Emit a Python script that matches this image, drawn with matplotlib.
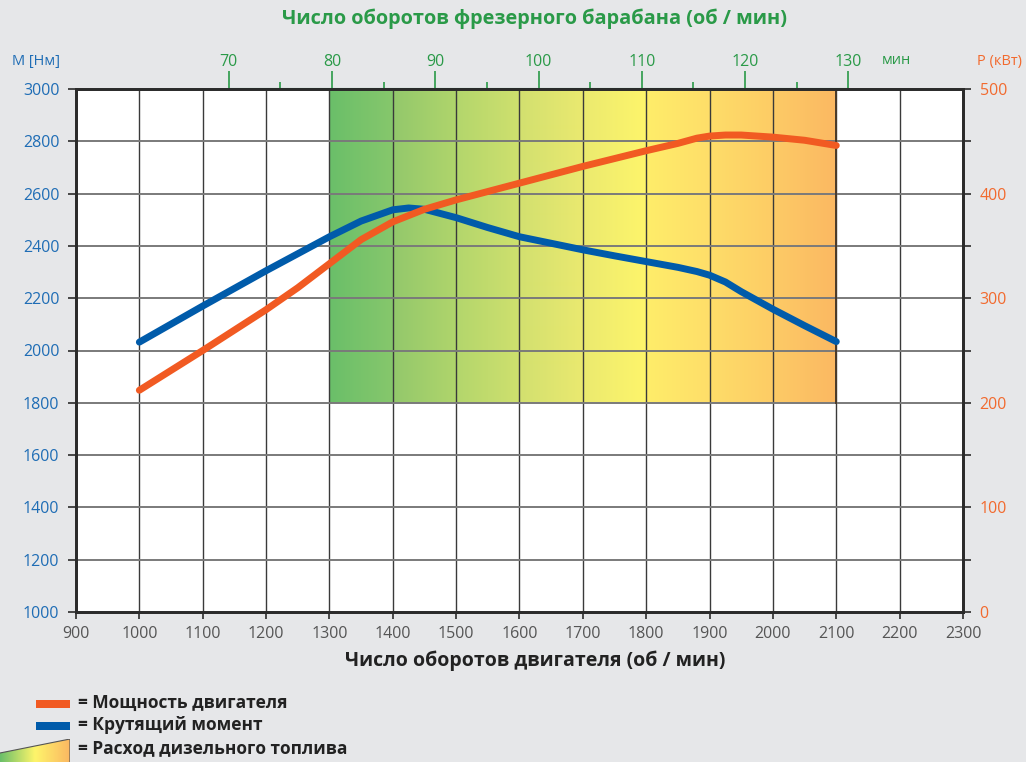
import numpy as np
import matplotlib
matplotlib.use("Agg")
import matplotlib.pyplot as plt
from matplotlib.colors import LinearSegmentedColormap, to_rgb
from matplotlib.patches import Polygon, Rectangle

plt.rcParams['font.family'] = ['Open Sans', 'DejaVu Sans']

# ---------------- data ----------------
torque_rpm = [1000, 1100, 1200, 1250, 1300, 1350, 1400, 1425, 1450, 1500, 1550, 1600, 1650,
              1700, 1750, 1800, 1850, 1880, 1900, 1925, 1950, 2000, 2050, 2100]
torque = [2032, 2170, 2305, 2370, 2435, 2495, 2538, 2545, 2540, 2508, 2470, 2435, 2410,
          2385, 2362, 2340, 2318, 2302, 2288, 2262, 2225, 2158, 2095, 2034]
power_rpm = [1000, 1100, 1200, 1250, 1300, 1350, 1400, 1450, 1500, 1550, 1600, 1700, 1800,
             1850, 1880, 1900, 1925, 1950, 2000, 2050, 2100]
power = [212, 250, 289, 310, 333, 356, 373, 385, 394, 402, 410, 426, 441,
         448, 453, 455, 456, 456, 454, 451, 446]

x_ticks = list(range(900, 2301, 100))
torque_ticks = list(range(1000, 3001, 200))
power_ticks = [0, 100, 200, 300, 400, 500]
power_minor = [50, 150, 250, 350, 450]
drum_ticks = [70, 80, 90, 100, 110, 120, 130]
drum_minor = [75, 85, 95, 105, 115, 125]
drum_ratio = 16.3  # engine rpm per drum rpm

zone_rpm = (1300, 2100)
zone_torque = (1800, 3000)
zone_col_edges = list(range(1300, 2101, 100))
zone_colors = [("#6abf69", "#86c76c"), ("#93c86b", "#b0d56c"), ("#b3d66c", "#cfe06e"),
               ("#d2e06f", "#eae96f"), ("#ebea6f", "#fef56b"), ("#ffed6a", "#fede69"),
               ("#fedd69", "#fdcc65"), ("#fdcb66", "#fbb862")]

legend_labels = ["= Мощность двигателя", "= Крутящий момент", "= Расход дизельного топлива"]

# ---------------- styles ----------------
BG = "#e6e7e9"
ORANGE = "#f15a22"
BLUE = "#005baa"
BLUE_T = "#1f6db5"
ORANGE_T = "#f26a2e"
GREEN = "#2a9a48"
DARK = "#2b2b2b"

W, H = 1026, 762
fig = plt.figure(figsize=(W / 100, H / 100), dpi=100, facecolor=BG)
ax = fig.add_axes([76 / W, 1 - 612 / H, (963 - 76) / W, (612 - 89) / H])
ax.set_facecolor("white")

# gradient zone, per column
for i in range(len(zone_col_edges) - 1):
    c0, c1 = np.array(to_rgb(zone_colors[i][0])), np.array(to_rgb(zone_colors[i][1]))
    t = np.linspace(0, 1, 64)[None, :, None]
    img = c0[None, None, :] * (1 - t) + c1[None, None, :] * t
    ax.imshow(img, extent=[zone_col_edges[i], zone_col_edges[i + 1], zone_torque[0], zone_torque[1]],
              aspect="auto", interpolation="bilinear", zorder=0.2)
ax.set_xlim(900, 2300)
ax.set_ylim(1000, 3000)

# grid
for xv in x_ticks[1:-1]:
    ax.axvline(xv, color="#3a3a3a", lw=1.0, zorder=1.5)
for yv in torque_ticks[1:-1]:
    ax.axhline(yv, color="#7a7a7a", lw=1.4, zorder=1.5)
ax.plot([zone_rpm[1], zone_rpm[1]], [zone_torque[0], zone_torque[1]], color="#4a3a2a", lw=1.4, zorder=1.6)

# lines
ax.plot(torque_rpm, torque, color=BLUE, lw=5, solid_capstyle="round", solid_joinstyle="round", zorder=3)
axp = ax.twinx()
axp.set_ylim(0, 500)
axp.plot(power_rpm, power, color=ORANGE, lw=5, solid_capstyle="round", solid_joinstyle="round", zorder=4)

for a in (ax, axp):
    for s in a.spines.values():
        s.set_color(DARK)
        s.set_linewidth(2)

ax.set_xticks(x_ticks)
ax.set_yticks(torque_ticks)
ax.tick_params(axis="x", length=5, width=1.2, color=DARK, labelcolor="#555555", labelsize=11.5, pad=5)
ax.tick_params(axis="y", length=6, width=1.2, color=DARK, labelcolor=BLUE_T, labelsize=11.5, pad=6)
axp.set_yticks(power_ticks)
axp.set_yticks(power_minor, minor=True)
axp.tick_params(axis="y", which="both", length=6, width=1.2, color=DARK, labelcolor=ORANGE_T,
                labelsize=11.5, pad=6)

# top drum axis
top = ax.secondary_xaxis("top", functions=(lambda x: x / drum_ratio, lambda d: d * drum_ratio))
top.set_xticks(drum_ticks)
top.set_xticks(drum_minor, minor=True)
top.tick_params(axis="x", which="major", length=13, width=1.2, color=GREEN, labelcolor=GREEN,
                labelsize=11.5, pad=1)
top.tick_params(axis="x", which="minor", length=5, width=1.2, color=GREEN)
top.spines["top"].set_bounds(drum_ticks[0], drum_ticks[-1])
top.spines["top"].set_color(GREEN)
top.spines["top"].set_linewidth(1.5)

# texts
fig.text(535 / W, 1 - 19 / H, "Число оборотов фрезерного барабана (об / мин)", color=GREEN,
         fontsize=14.3, fontweight="bold", ha="center", va="center")
fig.text(535 / W, 1 - 661 / H, "Число оборотов двигателя (об / мин)", color="#222222",
         fontsize=14, fontweight="bold", ha="center", va="center")
fig.text(12 / W, 1 - 61 / H, "M [Нм]", color=BLUE_T, fontsize=10.5, ha="left", va="center")
fig.text(1022 / W, 1 - 61 / H, "P (кВт)", color=ORANGE_T, fontsize=10.5, ha="right", va="center")
fig.text(882 / W, 1 - 60 / H, "мин", color=GREEN, fontsize=10.5, ha="left", va="center")

# legend
fig.patches.append(Rectangle((36 / W, 1 - 708 / H), 34 / W, 8 / H, transform=fig.transFigure,
                             facecolor=ORANGE, edgecolor="none"))
fig.patches.append(Rectangle((36 / W, 1 - 730 / H), 34 / W, 8 / H, transform=fig.transFigure,
                             facecolor=BLUE, edgecolor="none"))
lax = fig.add_axes([0, 0, 70 / W, 23 / H])
lax.set_xlim(0, 1)
lax.set_ylim(0, 1)
lax.axis("off")
cmap = LinearSegmentedColormap.from_list("fuel", ["#6abf69", "#fef56b", "#fbb862"])
grad = np.linspace(0, 1, 128)[None, :]
im = lax.imshow(grad, cmap=cmap, extent=[0, 1, 0, 1], aspect="auto")
tri = Polygon([[0, 0], [0, 9 / 23], [1, 1], [1, 0]], closed=True, transform=lax.transData,
              facecolor="none", edgecolor="none")
lax.add_patch(tri)
im.set_clip_path(tri)
lax.plot([0, 1, 1], [9 / 23, 1, 0], color="#555555", lw=0.8)

for txt, yy in zip(legend_labels, [703, 725, 748]):
    fig.text(78 / W, 1 - yy / H, txt, color="#222222", fontsize=12.5, fontweight="bold",
             ha="left", va="center")

fig.savefig("out.png", dpi=100, facecolor=BG)
